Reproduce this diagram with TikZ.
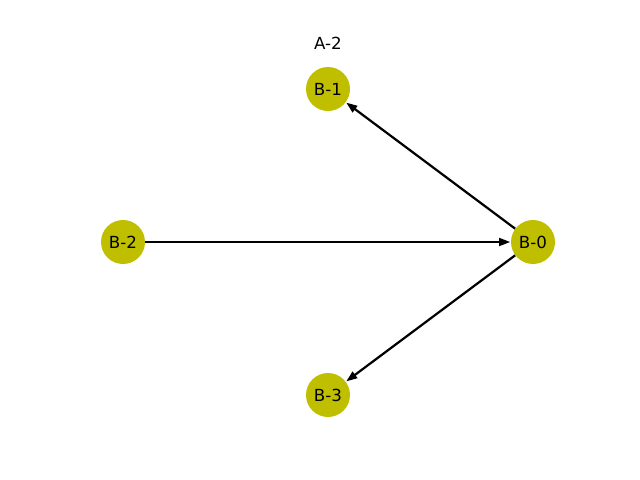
\documentclass[tikz,border=0pt]{standalone}
\usepackage{fontspec}
\setmainfont{DejaVu Sans}
\usetikzlibrary{arrows.meta}
\definecolor{nodeolive}{rgb}{0.75,0.75,0}
\begin{document}
\begin{tikzpicture}[x=0.72pt,y=-0.72pt,
  vertex/.style={circle,fill=nodeolive,draw=none,minimum size=44*0.72pt,inner sep=0pt,font=\fontsize{12}{14}\selectfont},
  link/.style={line width=1.6pt,-{Triangle[length=8pt,width=5.6pt]},shorten >=0.3pt}]
  \useasboundingbox (0,0) rectangle (640,480);
  \node[font=\fontsize{12}{14}\selectfont] (title) at (328,43) {A-2};
  \node[vertex] (b1) at (328,89) {B-1};
  \node[vertex] (b2) at (123,242) {B-2};
  \node[vertex] (b0) at (533,242) {B-0};
  \node[vertex] (b3) at (328,395) {B-3};
  \draw[link] (b0) -- (b1);
  \draw[link] (b2) -- (b0);
  \draw[link] (b0) -- (b3);
\end{tikzpicture}
\end{document}
